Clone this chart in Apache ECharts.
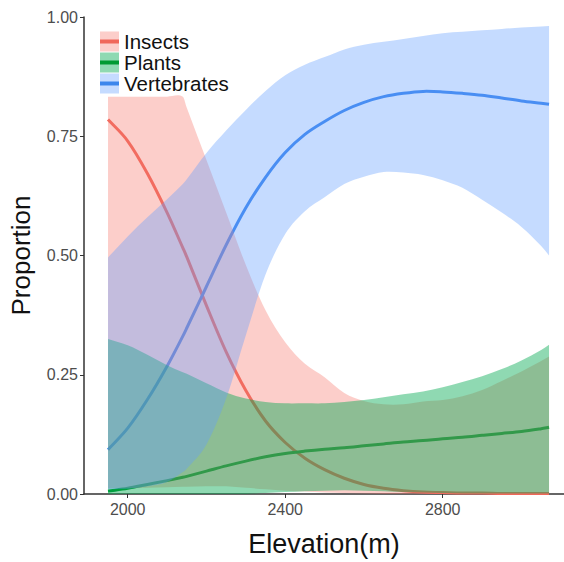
<!DOCTYPE html>
<html>
<head>
<meta charset="utf-8">
<script src="https://cdn.jsdelivr.net/npm/echarts@6/dist/echarts.min.js"></script>
<style>
  html, body { margin: 0; padding: 0; background: #fff; }
  #chart { width: 564px; height: 562px; }
</style>
</head>
<body>
<div id="chart"></div>
<script>
// elevation (m) sample points
const elevation = [1950, 2000, 2050, 2100, 2140, 2150, 2200, 2250, 2300, 2350, 2400, 2450, 2500,
  2550, 2600, 2650, 2700, 2750, 2800, 2850, 2900, 2950, 3000, 3050, 3070];

// Insects
const insectsMean = [0.785, 0.74, 0.672, 0.59, 0.516, 0.497, 0.395, 0.298, 0.217, 0.153, 0.108, 0.075, 0.051,
  0.033, 0.02, 0.012, 0.007, 0.004, 0.003, 0.002, 0.002, 0.001, 0.001, 0.001, 0.001];
const insectsLow = [0.012, 0.012, 0.013, 0.014, 0.015, 0.015, 0.016, 0.016, 0.013, 0.01, 0.007, 0.005, 0.003,
  0.002, 0.001, 0, 0, 0, 0, 0, 0, 0, 0, 0, 0];
const insectsHigh = [0.833, 0.833, 0.833, 0.833, 0.833, 0.81, 0.70, 0.59, 0.48, 0.385, 0.318, 0.273, 0.245,
  0.212, 0.195, 0.188, 0.188, 0.194, 0.197, 0.205, 0.218, 0.237, 0.257, 0.279, 0.288];

// Plants
const plantsMean = [0.006, 0.012, 0.02, 0.028, 0.035, 0.037, 0.048, 0.059, 0.069, 0.078, 0.085, 0.09, 0.094,
  0.097, 0.101, 0.105, 0.109, 0.112, 0.116, 0.119, 0.123, 0.127, 0.131, 0.137, 0.14];
const plantsLow = [0, 0, 0, 0, 0, 0, 0, 0, 0, 0.002, 0.004, 0.006, 0.007,
  0.008, 0.007, 0.006, 0.004, 0.003, 0.002, 0.001, 0.001, 0.001, 0.001, 0.001, 0.001];
const plantsHigh = [0.325, 0.312, 0.292, 0.27, 0.255, 0.252, 0.232, 0.213, 0.2, 0.193, 0.19, 0.19, 0.19,
  0.193, 0.197, 0.203, 0.209, 0.215, 0.224, 0.235, 0.247, 0.262, 0.28, 0.302, 0.313];

// Vertebrates
const vertMean = [0.093, 0.138, 0.198, 0.268, 0.331, 0.348, 0.435, 0.522, 0.6, 0.664, 0.716, 0.754, 0.781,
  0.804, 0.821, 0.833, 0.84, 0.844, 0.843, 0.84, 0.836, 0.83, 0.824, 0.819, 0.817];
const vertLow = [0.01, 0.011, 0.016, 0.025, 0.046, 0.053, 0.104, 0.2, 0.333, 0.46, 0.545, 0.593, 0.622,
  0.65, 0.665, 0.675, 0.674, 0.669, 0.658, 0.642, 0.617, 0.59, 0.56, 0.52, 0.50];
const vertHigh = [0.496, 0.54, 0.58, 0.618, 0.65, 0.66, 0.715, 0.762, 0.805, 0.845, 0.878, 0.9, 0.916,
  0.932, 0.942, 0.948, 0.954, 0.96, 0.966, 0.969, 0.972, 0.975, 0.978, 0.98, 0.981];

const xTicks = [2000, 2400, 2800];
const groups = ['Insects', 'Plants', 'Vertebrates'];

const lineColors = ['#f0675a', '#009a32', '#3c86ec'];
const bandColors = ['rgba(248,118,109,0.36)', 'rgba(0,168,80,0.44)', 'rgba(97,156,255,0.37)'];
const font = 'Liberation Sans';

// smooth curve through pixel points (cubic hermite, slopes from neighbours)
function curvePath(pts, cmd) {
  const n = pts.length;
  const slope = pts.map((p, i) => {
    const a = pts[Math.max(i - 1, 0)];
    const b = pts[Math.min(i + 1, n - 1)];
    const dx = b[0] - a[0];
    return dx === 0 ? 0 : (b[1] - a[1]) / dx;
  });
  let d = cmd + pts[0][0].toFixed(2) + ',' + pts[0][1].toFixed(2);
  for (let i = 0; i < n - 1; i++) {
    const p0 = pts[i], p1 = pts[i + 1];
    const h = (p1[0] - p0[0]) / 3;
    d += 'C' + (p0[0] + h).toFixed(2) + ',' + (p0[1] + slope[i] * h).toFixed(2) +
      ' ' + (p1[0] - h).toFixed(2) + ',' + (p1[1] - slope[i + 1] * h).toFixed(2) +
      ' ' + p1[0].toFixed(2) + ',' + p1[1].toFixed(2);
  }
  return d;
}

// ribbon between low and high, drawn once through the axis scales
function band(name, lo, hi, color) {
  return {
    name,
    type: 'custom',
    data: elevation.map((e, i) => [e, lo[i], hi[i]]),
    encode: { x: 0, y: [1, 2] },
    silent: true,
    z: 3,
    renderItem: function (params, api) {
      if (params.dataIndex !== 0) return null;
      const top = elevation.map((e, i) => api.coord([e, hi[i]]));
      const bottom = elevation.map((e, i) => api.coord([e, lo[i]])).reverse();
      return {
        type: 'path',
        shape: { pathData: curvePath(top, 'M') + curvePath(bottom, 'L') + 'Z' },
        style: { fill: color, stroke: null }
      };
    }
  };
}

// fitted proportion line, same smoothing as the ribbons
function meanLine(name, ys, color) {
  return {
    name,
    type: 'custom',
    data: elevation.map((e, i) => [e, ys[i]]),
    encode: { x: 0, y: 1 },
    silent: true,
    z: 2,
    renderItem: function (params, api) {
      if (params.dataIndex !== 0) return null;
      const pts = elevation.map((e, i) => api.coord([e, ys[i]]));
      return {
        type: 'path',
        shape: { pathData: curvePath(pts, 'M') },
        style: { fill: null, stroke: color, lineWidth: 3, lineCap: 'butt', lineJoin: 'round' }
      };
    }
  };
}

const chart = echarts.init(document.getElementById('chart'), null, { renderer: 'svg' });

const legendBase = {
  orient: 'vertical',
  left: 100,
  top: 31,
  padding: 0,
  itemWidth: 19,
  itemHeight: 20,
  itemGap: 0,
  selectedMode: false,
  textStyle: { fontFamily: font, fontSize: 20.5, color: '#111' }
};

const option = {
  animation: false,
  backgroundColor: '#fff',
  grid: { left: 81, right: 0, top: 17, bottom: 59, containLabel: false },
  legend: [
    Object.assign({}, legendBase, {
      data: groups.map((g, i) => ({ name: g, icon: 'rect', itemStyle: { color: bandColors[i] } }))
    }),
    Object.assign({}, legendBase, {
      data: groups.map((g, i) => ({
        name: g, icon: 'path://M0,0M19,20M0,8h19v4h-19z', itemStyle: { color: lineColors[i] }
      })),
      textStyle: { fontFamily: font, fontSize: 20.5, color: 'rgba(0,0,0,0)' }
    })
  ],
  xAxis: {
    type: 'value',
    min: 1889,
    max: 3108,
    name: 'Elevation(m)',
    nameLocation: 'middle',
    nameGap: 36,
    nameTextStyle: { fontFamily: font, fontSize: 27, color: '#111' },
    axisLine: { lineStyle: { color: '#333', width: 1.5 } },
    axisTick: { show: true, length: 4, customValues: xTicks, lineStyle: { color: '#333' } },
    axisLabel: {
      customValues: xTicks, margin: 7, fontFamily: font, fontSize: 16, color: '#4d4d4d',
      formatter: (v) => String(v)
    },
    splitLine: { show: false }
  },
  yAxis: {
    type: 'value',
    min: 0,
    max: 1,
    interval: 0.25,
    name: 'Proportion',
    nameLocation: 'middle',
    nameGap: 50,
    nameTextStyle: { fontFamily: font, fontSize: 26, color: '#111' },
    axisLine: { show: true, lineStyle: { color: '#333', width: 1.5 } },
    axisTick: { show: true, length: 4, lineStyle: { color: '#333' } },
    axisLabel: {
      margin: 6, fontFamily: font, fontSize: 16, color: '#4d4d4d',
      formatter: (v) => v.toFixed(2)
    },
    splitLine: { show: false }
  },
  series: [
    meanLine('Insects', insectsMean, lineColors[0]),
    meanLine('Plants', plantsMean, lineColors[1]),
    meanLine('Vertebrates', vertMean, lineColors[2]),
    band('Insects', insectsLow, insectsHigh, bandColors[0]),
    band('Plants', plantsLow, plantsHigh, bandColors[1]),
    band('Vertebrates', vertLow, vertHigh, bandColors[2])
  ]
};

chart.setOption(option);
</script>
</body>
</html>
